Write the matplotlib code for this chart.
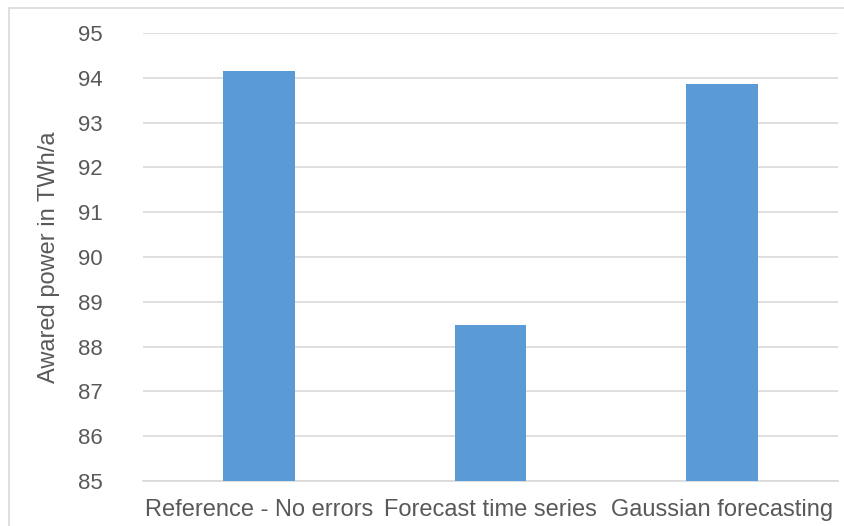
import matplotlib

matplotlib.use("Agg")
import matplotlib.pyplot as plt
from matplotlib.patches import Rectangle

# Awarded power per forecasting approach (TWh/a)
categories = ["Reference - No errors", "Forecast time series", "Gaussian forecasting"]
values = [94.15, 88.48, 93.86]
yticks = list(range(85, 96))

plt.rcParams["font.family"] = ["Liberation Sans", "DejaVu Sans"]

W, H = 845, 526
fig = plt.figure(figsize=(W / 100, H / 100), dpi=100)
ax = fig.add_axes([143 / W, 1 - 481 / H, (838 - 143) / W, (481 - 33) / H])

# light chart frame, its right and bottom edges run off the canvas
fig.patches.append(Rectangle((9 / W, -0.1), 1.2, 1.1 - 8 / H, transform=fig.transFigure,
                             fill=False, edgecolor="#d9d9d9", linewidth=1.2))

x = range(len(categories))
ax.bar(x, values, width=0.31, color="#5b9bd5", zorder=3)

ax.set_xlim(-0.5, len(categories) - 0.5)
ax.set_ylim(85, 95)
ax.set_yticks(yticks)
ax.set_xticks(list(x))
ax.set_xticklabels(categories)
ax.grid(axis="y", color="#d9d9d9", linewidth=1.2)
ax.set_axisbelow(True)
for side in ("top", "right", "left"):
    ax.spines[side].set_visible(False)
ax.spines["bottom"].set_color("#d9d9d9")
ax.spines["bottom"].set_linewidth(1.2)
ax.tick_params(axis="both", length=0, colors="#595959")
ax.tick_params(axis="y", labelsize=16, pad=29)
ax.tick_params(axis="x", labelsize=17, pad=13)

ax.set_ylabel("Awared power in TWh/a", fontsize=17, color="#595959")
ax.yaxis.set_label_coords((49 - 143) / (838 - 143), 0.5)
ax.yaxis.label.set_va("center")

fig.savefig("out.png", dpi=100, facecolor="white")
